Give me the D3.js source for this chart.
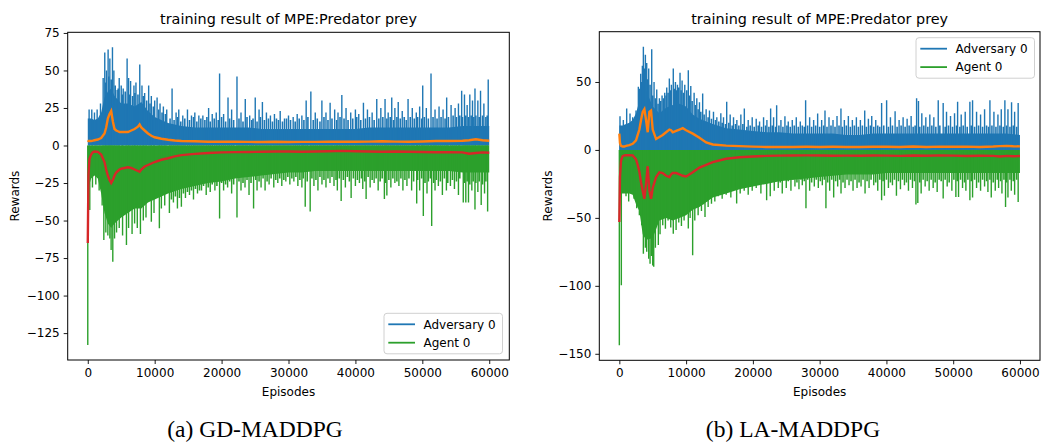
<!DOCTYPE html>
<html><head><meta charset="utf-8">
<script src="https://cdn.jsdelivr.net/npm/d3@7"></script>
<style>body{margin:0;background:#fff}svg{display:block}</style>
</head><body><svg id="c" width="1041" height="444"></svg>
<script>
// ---------- shared categories / ticks ----------
const xTicks = [0,10000,20000,30000,40000,50000,60000];
const yTicksA = [-125,-100,-75,-50,-25,0,25,50,75];
const yTicksB = [-150,-100,-50,0,50];
const seriesNames = ["Adversary 0","Agent 0"];
const titleText = "training result of MPE:Predator prey";
const captions = ["(a) GD-MADDPG","(b) LA-MADDPG"];

// episode grid for the dense band of raw rewards
const bandEp = [0,500,1000,1500,2000,2500,3000,3500,4000,5000,6000,7000,8000,9000,10000,11000,12000,14000,16000,18000,20000,22000,24000,26000,28000,30000,32000,34000,36000,38000,40000,42000,44000,46000,48000,50000,52000,54000,56000,58000,60000];
// episode grid for smoothed curves
const smoothEp = [0,100,250,500,750,1000,1500,2000,2500,2750,3000,3250,3500,3750,4000,4250,4500,4750,5000,5500,6000,6500,7000,7500,7750,8000,8500,9000,9500,10000,11000,12000,13000,14000,16000,18000,20000,22000,24000,26000,28000,30000,32000,34000,36000,38000,40000,42000,44000,46000,48000,50000,52000,54000,56000,57000,58000,59000,60000];

// ---------- (a) GD-MADDPG ----------
const advBandA = [18,18,17,18,22,32,36,38,33,28,28,26,29,23,19,17,15,13,12,12,12,12,12,11,11,11,11,11,11,11,11,12,12,12,12,12,12,12,13,13,13];
const agtBandA = [-30,-22,-20,-22,-32,-45,-52,-55,-52,-48,-45,-42,-42,-38,-36,-34,-32,-29,-27,-25,-24,-22,-21,-20,-19,-18,-18,-17,-17,-17,-17,-17,-17,-17,-17,-17,-17,-17,-18,-18,-18];
const advSpikesA = [[200,24],[600,24],[1000,22],[1400,24],[1900,28],[2300,45],[2540,62],[2800,50],[3040,64],[3300,58],[3690,65.5],[3900,50],[4390,37],[4700,45],[5000,40],[5300,38],[5880,58],[6100,45],[6400,43],[6900,40],[7200,42],[7770,54],[8100,40],[8500,35],[9100,40],[9500,33],[10000,30],[10360,32],[10800,28],[11300,26],[11800,24],[12600,38],[13200,22],[13600,24],[14200,20],[14900,24],[15500,20],[16000,22],[16600,20],[17200,20],[18060,25],[18600,21],[19200,22],[19700,48],[20300,21],[20960,32],[21500,24],[22300,46],[22900,22],[23540,31],[24200,20],[25030,32],[25600,24],[26100,29],[26700,22],[27300,20],[27900,21],[28760,23],[29400,18],[30000,20],[30700,19],[31300,21],[32000,20],[32640,30],[33340,36],[34000,22],[34990,30],[35600,22],[36220,28.5],[36900,24],[37400,22],[37970,33.6],[38600,25],[39300,22],[40000,24],[40500,21],[41200,28.5],[41800,24],[42500,22],[43190,31],[43800,25],[44430,31],[44900,22],[45430,32],[45900,25],[46400,29],[47000,23],[47870,31],[48500,25],[49100,22],[49600,26],[50060,40],[50600,25],[51300,48],[51900,24],[52500,26],[53100,24],[53640,32],[54300,27],[54900,25],[55400,28],[55880,36.5],[56300,34],[56700,27],[57100,34],[57500,30],[57870,38],[58300,30],[58700,36.5],[59200,28],[59850,44]];
const advMinorA = [[2700,42],[3150,46],[3500,44],[4100,40],[4550,38],[5150,34],[5600,36],[6250,34],[6700,33],[7050,35],[7500,34],[8300,33],[8800,30],[9300,28],[9800,26],[10600,24],[11100,22],[11600,21],[12300,18],[12900,17],[13400,19],[13900,16],[14500,18],[15200,17],[15800,19],[16300,16],[16900,18],[17500,17],[17800,19],[18300,16],[18900,18],[19500,17],[20000,19],[20600,16],[21200,18],[21800,17],[22600,18],[23200,16],[23800,19],[24500,17],[24700,18],[25300,16],[25800,19],[26400,17],[27000,18],[27600,16],[28200,18],[28500,17],[29100,16],[29700,18],[30300,17],[31000,16],[31600,18],[32300,17],[32900,19],[33700,17],[34300,18],[34700,16],[35300,19],[35900,17],[36500,18],[37200,17],[37700,19],[38300,18],[38900,17],[39600,18],[40200,19],[40800,17],[41500,18],[42100,19],[42800,17],[43500,18],[44100,19],[44700,18],[45200,19],[45700,17],[46200,19],[46700,18],[47300,19],[47600,17],[48200,19],[48800,18],[49300,19],[49900,18],[50300,19],[50900,18],[51600,19],[52200,18],[52800,19],[53400,18],[53900,19],[54600,20],[55100,19],[55600,20],[56000,19],[56500,20],[56900,19],[57300,20],[57700,19],[58000,20],[58500,19],[59000,20],[59500,19],[59700,20]];
const agtSpikesA = [[0,-133],[300,-43],[700,-28],[1200,-26],[1700,-30],[2150,-40],[2400,-63],[2700,-58],[3000,-60],[3300,-62],[3490,-69.6],[3740,-77.4],[4000,-62],[4300,-58],[4700,-55],[5200,-60],[5780,-66.3],[6100,-55],[6620,-59],[7000,-52],[7400,-55],[7870,-59],[8300,-50],[8700,-48],[9500,-50.8],[9900,-45],[10700,-55.2],[11000,-42],[11500,-40],[12200,-45],[12800,-38],[13400,-42],[13990,-40.8],[14600,-35],[15200,-33],[15800,-36],[16400,-32],[17000,-30],[17700,-33],[18300,-31],[19000,-30],[19700,-48.6],[20300,-30],[20900,-28],[21500,-32],[22300,-48],[22900,-30],[23500,-28],[24100,-33],[24780,-42],[25300,-30],[25900,-28],[26500,-30],[27100,-26],[27800,-28],[28400,-25],[29000,-27],[29600,-24],[30200,-26],[30800,-24],[31400,-27],[32000,-28],[32500,-40.8],[33240,-44],[33800,-27],[34400,-30],[35000,-26],[35600,-28],[36200,-25],[36800,-27],[37300,-30],[37870,-37],[38500,-28],[39360,-35],[40000,-27],[40600,-25],[41100,-29],[41600,-35.6],[42200,-28],[42800,-25],[43400,-30],[44330,-35.6],[44700,-33.4],[45300,-28],[45900,-25],[46500,-27],[47100,-30],[47700,-27],[48400,-30],[49160,-38.6],[49600,-30],[50150,-47],[50700,-32],[51400,-53.7],[51900,-30],[52400,-27],[53000,-33],[53600,-30],[54200,-27],[54800,-29],[55400,-33],[56120,-37.9],[56500,-37.9],[56900,-37.9],[57400,-30],[57870,-42.6],[58300,-31],[58800,-39.6],[59300,-32],[59760,-44]];
const agtMinorA = [[12500,-36],[13100,-34],[13700,-35],[14300,-32],[14900,-31],[15500,-30],[16100,-29],[16700,-30],[17300,-27],[18000,-28],[18600,-26],[19300,-27],[20000,-25],[20600,-26],[21200,-24],[21800,-26],[22600,-24],[23200,-25],[23800,-23],[24400,-25],[25100,-23],[25600,-24],[26200,-22],[26800,-24],[27400,-22],[28100,-23],[28700,-22],[29300,-23],[29900,-21],[30500,-22],[31100,-21],[31700,-23],[32200,-22],[32800,-24],[33500,-22],[34100,-23],[34700,-21],[35300,-23],[35900,-22],[36500,-21],[37100,-23],[37600,-22],[38200,-23],[38800,-21],[39100,-24],[39700,-22],[40300,-23],[40900,-22],[41400,-24],[41900,-21],[42500,-23],[43100,-22],[43700,-24],[44000,-22],[44500,-25],[45000,-23],[45600,-22],[46200,-24],[46800,-22],[47400,-23],[48000,-22],[48700,-24],[49300,-23],[49900,-22],[50400,-25],[50900,-24],[51200,-22],[51700,-25],[52100,-23],[52700,-24],[53300,-22],[53800,-25],[54500,-23],[55100,-24],[55600,-22],[56300,-25],[56700,-24],[57100,-26],[57600,-24],[58000,-25],[58500,-24],[59000,-26],[59500,-24]];
const advSmoothA = [3.5,3,3,3,3.2,3.5,4,5,8,12,18,21,23,16,11,10,9.5,9,9,9,9,10,11,12.5,14,12,10,8,6.5,5.5,4.5,3.8,3.3,3,2.8,2.5,2.6,2.5,2.4,2.3,2.5,2.3,2.4,2.4,2.5,2.6,2.5,2.6,2.8,2.6,2.5,2.7,3,3,3.2,3.5,4.2,3.5,3.2];
const agtSmoothA = [-65,-20,-9,-6,-4.5,-4,-4.2,-6,-11,-16,-20,-23,-25,-23,-20,-18,-17,-16,-15.5,-15,-14.5,-15,-16,-17,-17.5,-16,-14,-13,-12,-11,-9.5,-8.5,-7.2,-6.4,-5.6,-5,-4.6,-4.4,-4.3,-4.2,-4,-4,-4.2,-4,-3.8,-3.6,-3.8,-4,-4.2,-4,-4.2,-4.3,-4.5,-4.4,-4.6,-5.5,-5,-4.6,-4.8];

// ---------- (b) LA-MADDPG ----------
const advBandB = [18,18,19,20,22,27,36,42,44,32,27,31,33,34,32,26,23,19,16,15,14,13,13,12,12,12,12,11,11,12,12,12,12,12,12,12,12,12,12,12,11];
const agtBandB = [-32,-32,-32,-32,-33,-40,-45,-62,-66,-65,-52,-50,-52,-50,-48,-44,-42,-35,-32,-29,-27,-25,-23,-22,-21,-20,-19,-18,-18,-18,-17,-17,-17,-17,-17,-17,-17,-17,-17,-17,-17];
const advSpikesB = [[100,24.8],[600,22],[1100,30.5],[1600,26.8],[2000,24],[2500,29],[2850,46.4],[3200,56],[3450,62],[3600,76],[3750,60],[3900,70],[4100,64],[4400,60],[4850,74],[5200,50],[5600,44.4],[6000,38],[6400,40],[6800,42],[7100,46],[7490,52.5],[7800,48],[8080,60],[8400,50],[8700,48],[9090,56.7],[9400,51],[9800,48],[10330,58.7],[10700,47],[11200,42],[11600,38],[12000,35],[12480,41.5],[13000,30],[13500,29],[14100,28],[14600,24],[15200,27],[15600,24],[16080,35.4],[16600,26],[17100,24],[17600,22],[18200,26],[18720,30.5],[19300,22],[19900,24],[20500,23],[21000,21],[21600,24],[22100,22],[22660,30.5],[23100,24],[23560,32.9],[24200,22],[24800,24.8],[25300,21],[25900,22],[26500,24],[27100,21],[27900,36.6],[28500,24],[29100,22],[29700,26.8],[30300,22],[30800,29],[31400,24],[32000,22],[32600,25],[33190,30.5],[33700,22],[34300,25],[34900,22],[35500,24],[36100,22],[36750,29],[37300,23],[37800,25],[38400,22],[39280,34.6],[40030,36.6],[40600,24],[41300,28.5],[41900,22],[42500,24],[43100,23],[43700,25],[44520,38],[44800,36],[45300,27],[45900,24],[46500,26],[47100,24],[47760,36.6],[48500,34.6],[49000,28],[49600,25],[50200,27],[50660,35.5],[51200,26],[51800,28],[52500,35.5],[52900,36.6],[53500,28],[54100,26],[54700,30],[55500,36.6],[56100,28],[56700,26],[57200,30],[57740,36.6],[58200,30],[58740,35],[59200,28],[59730,34.6]];
const advMinorB = [[3000,45],[3350,50],[4250,52],[4600,48],[5000,40],[5400,38],[5800,34],[6200,36],[6600,38],[7000,40],[7300,42],[7650,44],[8250,45],[8550,44],[8900,46],[9250,44],[9600,42],[10100,44],[10500,40],[10900,36],[11400,33],[11800,30],[12200,28],[12700,26],[13300,24],[13800,23],[14400,22],[14900,21],[15400,20],[15900,19],[16400,20],[16900,18],[17400,19],[17900,18],[18500,19],[19100,17],[19600,18],[20200,17],[20800,18],[21300,17],[21900,18],[22400,17],[22900,18],[23400,17],[23900,18],[24500,17],[25100,18],[25600,17],[26200,18],[26800,17],[27400,18],[27700,17],[28200,18],[28800,17],[29400,18],[30000,17],[30600,18],[31100,17],[31700,18],[32300,17],[32900,18],[33400,17],[34000,18],[34600,17],[35200,18],[35800,17],[36400,18],[37000,17],[37600,18],[38100,17],[38700,18],[39000,17],[39600,18],[40300,17],[40900,18],[41600,17],[42200,18],[42800,17],[43400,18],[44000,17],[44300,18],[45000,17],[45600,18],[46200,17],[46800,18],[47400,17],[48000,18],[48800,17],[49300,18],[49900,17],[50500,18],[51000,17],[51500,18],[52100,17],[52700,18],[53200,17],[53800,18],[54400,17],[55000,18],[55300,17],[55800,18],[56400,17],[57000,18],[57500,17],[58000,18],[58500,17],[59000,18],[59500,17]];
const agtSpikesB = [[0,-143.8],[300,-99.6],[700,-24],[1000,-34],[1400,-38],[1800,-30],[2200,-36],[2600,-43],[3000,-48],[3350,-55.4],[3600,-76.3],[3900,-72],[4100,-75],[4400,-80],[4600,-83.7],[4800,-78],[5000,-85],[5150,-86],[5400,-72],[5840,-70],[6100,-62],[6500,-55.4],[6900,-58],[7300,-52],[7700,-57],[8080,-61.6],[8500,-59],[8900,-53.4],[9300,-56],[9700,-52],[10330,-57.9],[10600,-50],[10980,-77.5],[11300,-52],[11800,-48],[12300,-45],[12830,-49.3],[13300,-42],[13800,-39.6],[14300,-38],[14800,-34],[15400,-36],[16000,-33],[16700,-35],[17570,-39.5],[18100,-32],[18700,-30],[19300,-33],[19900,-30],[20500,-28],[21200,-32],[22060,-37],[22600,-34],[23200,-30],[23800,-28],[24400,-32],[25000,-28],[25700,-30],[26300,-27],[26900,-29],[27400,-26],[27950,-43],[28500,-30],[29200,-27],[29800,-28],[30400,-26],[30940,-43],[31500,-30],[32100,-35],[32700,-27],[33200,-32],[33800,-28],[34400,-26],[35000,-30],[35600,-28],[36200,-27],[36800,-32],[37400,-28],[38100,-26],[38700,-30],[39280,-37],[39700,-33.7],[40300,-28],[40900,-26],[41500,-33.7],[42100,-29],[42700,-26],[43300,-30],[43900,-28],[44420,-40.2],[44700,-39],[45200,-32],[45800,-27],[46400,-30],[47000,-28],[47600,-31],[48500,-35.8],[49100,-27],[49800,-30],[50400,-34.6],[50800,-34.6],[51400,-28],[51900,-30],[52500,-37],[52900,-35],[53500,-28],[54100,-30],[54700,-27],[55200,-31],[55700,-35],[56300,-30],[56800,-28],[57300,-32],[57840,-42],[58200,-35],[58700,-30],[59200,-33],[59730,-38.3]];
const agtMinorB = [[12600,-40],[13100,-38],[13600,-36],[14100,-34],[14600,-32],[15100,-31],[15700,-30],[16300,-29],[16900,-28],[17300,-27],[17900,-27],[18400,-26],[19000,-26],[19600,-25],[20200,-24],[20800,-25],[21500,-23],[22300,-24],[22900,-23],[23500,-22],[24100,-24],[24700,-22],[25300,-23],[26000,-22],[26600,-24],[27200,-22],[27700,-23],[28200,-22],[28800,-24],[29500,-22],[30100,-23],[30700,-22],[31200,-24],[31800,-22],[32400,-23],[33000,-22],[33500,-24],[34100,-22],[34700,-23],[35300,-22],[35900,-24],[36500,-22],[37100,-23],[37700,-22],[38400,-24],[39000,-22],[39500,-23],[40000,-22],[40600,-24],[41200,-22],[41800,-23],[42400,-22],[43000,-24],[43600,-22],[44200,-23],[45000,-24],[45500,-22],[46100,-23],[46700,-22],[47300,-24],[47900,-22],[48200,-23],[48800,-22],[49400,-24],[50100,-22],[50600,-23],[51100,-22],[51700,-24],[52200,-22],[52700,-23],[53200,-22],[53800,-24],[54400,-22],[55000,-23],[55500,-22],[56000,-24],[56600,-22],[57100,-23],[57600,-22],[58000,-24],[58500,-22],[59000,-23],[59500,-22]];
const advSmoothB = [12,5,3,2.5,2.5,3,3.5,4.5,7,11,15,22,28,30,22,13,28,29,15,8,9.5,11,13,15,14.5,13,14,15,16,14.5,12,9,5.5,4,3.2,2.8,2.4,2.2,2.2,2.2,2.3,2.2,2.3,2.2,2.1,2.3,2.3,2.2,2.5,2.2,2.4,2.3,2.4,2.2,2.5,2.8,3,2.7,2.6];
const agtSmoothB = [-53,-20,-8,-4.5,-4,-3.9,-3.9,-4,-7,-11,-16,-24,-30,-36,-25,-12,-30,-36,-28,-20,-16.5,-17,-19,-20,-18,-17,-17,-18,-19,-19.5,-16.5,-13,-11,-9,-6.5,-5.4,-4.8,-4.4,-4.2,-4.1,-4,-4.1,-4.3,-4.2,-4.3,-4.1,-4.2,-4.4,-4.1,-4.3,-4,-4.2,-4.5,-4.3,-4.4,-4.8,-4.4,-4.6,-4.5];

// ---------- drawing ----------
const C = {adv:"#1f77b4", advS:"#ff7f0e", agt:"#2ca02c", agtS:"#d62728"};
const SANS = "'DejaVu Sans', sans-serif";
const svg = d3.select("#c");

function panel(p) {
  const allV = [...p.advSpikes.map(d=>d[1]), ...p.agtSpikes.map(d=>d[1]), ...p.advBand, ...p.agtBand, ...p.advSmooth, ...p.agtSmooth, 0];
  const vmin = d3.min(allV), vmax = d3.max(allV), pad = (vmax - vmin) * 0.05;
  const x = d3.scaleLinear().domain([-3000, 63000]).range([p.L, p.R]);
  const y = d3.scaleLinear().domain([vmin - pad, vmax + pad]).range([p.B, p.T]);
  const g = svg.append("g");
  const cid = "clip" + p.id;
  svg.append("clipPath").attr("id", cid).append("rect")
    .attr("x", p.L).attr("y", p.T).attr("width", p.R - p.L).attr("height", p.B - p.T);
  const plot = g.append("g").attr("clip-path", `url(#${cid})`);

  const band = (vals) => d3.area().x((d,i)=>x(bandEp[i])).y0(y(0)).y1(d=>y(d))(vals);
  const smooth = d3.line().x((d,i)=>x(smoothEp[i])).y(d=>y(d));
  const spikes = (data, col, w) => plot.append("g").selectAll("line").data(data).join("line")
    .attr("x1", d=>x(d[0])).attr("x2", d=>x(d[0])).attr("y1", y(0)).attr("y2", d=>y(d[1]))
    .attr("stroke", col).attr("stroke-width", w);

  // adversary raw
  plot.append("path").attr("d", band(p.advBand)).attr("fill", C.adv);
  spikes(p.advMinor, C.adv, 1.6);
  spikes(p.advSpikes, C.adv, 1.4);
  // adversary smoothed
  plot.append("path").attr("d", smooth(p.advSmooth)).attr("fill","none").attr("stroke", C.advS).attr("stroke-width", 2.4);
  // agent raw
  plot.append("path").attr("d", band(p.agtBand)).attr("fill", C.agt);
  spikes(p.agtMinor, C.agt, 1.6);
  spikes(p.agtSpikes, C.agt, 1.4);
  // agent smoothed
  plot.append("path").attr("d", smooth(p.agtSmooth)).attr("fill","none").attr("stroke", C.agtS).attr("stroke-width", 2.4);

  // axes
  const xa = g.append("g").attr("transform", `translate(0,${p.B})`)
    .call(d3.axisBottom(x).tickValues(xTicks).tickFormat(d3.format("d")).tickSize(4).tickPadding(4));
  const ya = g.append("g").attr("transform", `translate(${p.L},0)`)
    .call(d3.axisLeft(y).tickValues(p.yTicks).tickFormat(d3.format("d")).tickSize(4).tickPadding(4));
  [xa, ya].forEach(a => {
    a.select(".domain").remove();
    a.selectAll("text").attr("fill", "#000").style("font-size", "12px").style("font-family", SANS);
    a.selectAll("line").attr("stroke", "#000").attr("stroke-width", 0.9);
  });
  g.append("rect").attr("x", p.L).attr("y", p.T).attr("width", p.R - p.L).attr("height", p.B - p.T)
    .attr("fill", "none").attr("stroke", "#000").attr("stroke-width", 1);

  // texts
  g.append("text").attr("x", (p.L + p.R) / 2).attr("y", 24).attr("text-anchor", "middle")
    .style("font-family", SANS).style("font-size", "14.4px").text(titleText);
  g.append("text").attr("x", (p.L + p.R) / 2).attr("y", 396).attr("text-anchor", "middle")
    .style("font-family", SANS).style("font-size", "12px").text("Episodes");
  g.append("text").attr("transform", `translate(${p.yLabX},${(p.T + p.B) / 2}) rotate(-90)`)
    .attr("text-anchor", "middle").style("font-family", SANS).style("font-size", "12px").text("Rewards");
  g.append("text").attr("x", p.capX).attr("y", 437).attr("text-anchor", "middle")
    .style("font-family", "'Liberation Serif', 'DejaVu Serif', serif").style("font-size", "23.5px").text(p.caption);

  // legend
  const lg = g.append("g").attr("transform", `translate(${p.legX},${p.legY})`);
  lg.append("rect").attr("width", 118.5).attr("height", 40.5).attr("rx", 3)
    .attr("fill", "#fff").attr("fill-opacity", 0.8).attr("stroke", "#d0d0d0").attr("stroke-width", 1);
  [C.adv, C.agt].forEach((col, i) => {
    const yy = 11 + i * 18.4;
    lg.append("line").attr("x1", 4.3).attr("x2", 31).attr("y1", yy).attr("y2", yy)
      .attr("stroke", col).attr("stroke-width", 1.8);
    lg.append("text").attr("x", 39.5).attr("y", yy + 4.3)
      .style("font-family", SANS).style("font-size", "12px").text(seriesNames[i]);
  });
}

panel({id:"A", L:67.7, R:509.3, T:32.3, B:360, yTicks:yTicksA, yLabX:18.5, capX:255, caption:captions[0],
  legX:384, legY:313.3,
  advBand:advBandA, agtBand:agtBandA, advSpikes:advSpikesA, agtSpikes:agtSpikesA, advMinor:advMinorA, agtMinor:agtMinorA,
  advSmooth:advSmoothA, agtSmooth:agtSmoothA});
panel({id:"B", L:599.3, R:1040, T:31.7, B:360.3, yTicks:yTicksB, yLabX:551.5, capX:793, caption:captions[1],
  legX:916, legY:37.7,
  advBand:advBandB, agtBand:agtBandB, advSpikes:advSpikesB, agtSpikes:agtSpikesB, advMinor:advMinorB, agtMinor:agtMinorB,
  advSmooth:advSmoothB, agtSmooth:agtSmoothB});
</script></body></html>
